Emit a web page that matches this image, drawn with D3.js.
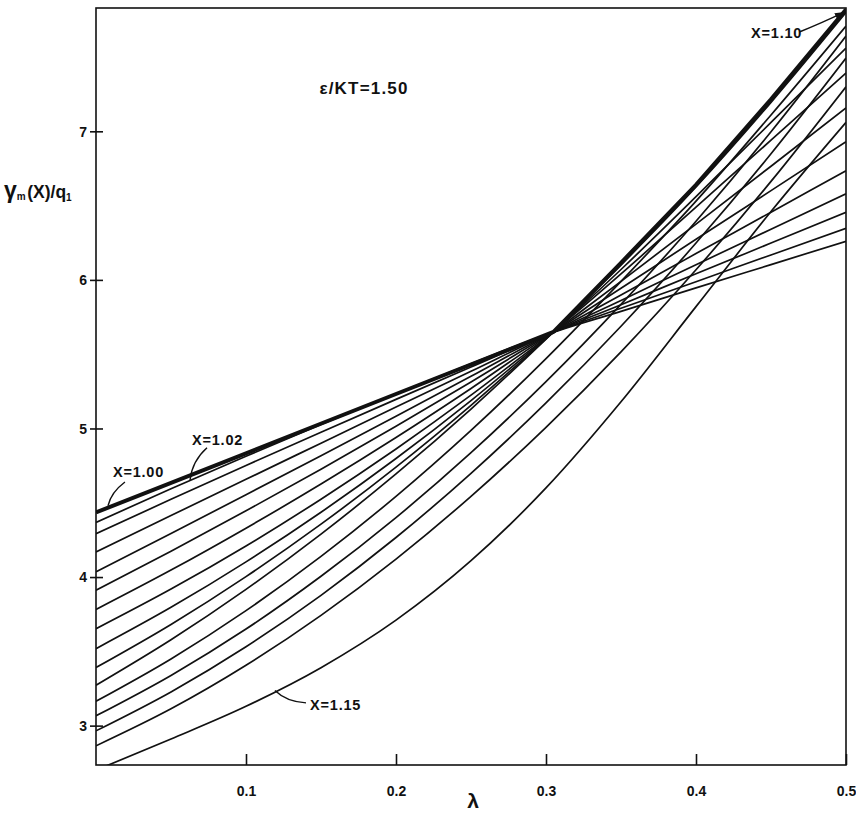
<!DOCTYPE html>
<html><head><meta charset="utf-8">
<script src="https://cdn.jsdelivr.net/npm/d3@7"></script>
<style>
body{margin:0;background:#fff}
text{font-family:"Liberation Sans",Arial,sans-serif;font-weight:bold;fill:#111}
</style>
</head><body>
<svg id="chart" width="856" height="813"></svg>
<script>
// lambda grid for the smooth curves
const lambdas = [0, 0.05, 0.10, 0.15, 0.20, 0.25, 0.30, 0.35, 0.40, 0.45, 0.50];
// lambda grid for the kinked X=1.00 curve
const lambdasKinked = [0, 0.10, 0.20, 0.305, 0.35, 0.40, 0.45, 0.50];
// curve parameters X
const xParams = ["1.00","1.01","1.02","1.03","1.04","1.05","1.06","1.07","1.08","1.09","1.10","1.11","1.12","1.13","1.14","1.15"];
// gamma_m(x)/q1 values
const c100 = [4.435,4.833,5.232,5.650,6.115,6.640,7.215,7.82];
const c101 = [4.368,4.594,4.813,5.027,5.234,5.436,5.631,5.788,5.946,6.103,6.26];
const c102 = [4.292,4.523,4.751,4.975,5.196,5.414,5.629,5.809,5.988,6.168,6.347];
const c103 = [4.169,4.414,4.658,4.901,5.144,5.385,5.626,5.833,6.041,6.248,6.455];
const c104 = [4.035,4.293,4.554,4.817,5.083,5.351,5.623,5.862,6.102,6.341,6.58];
const c105 = [3.911,4.174,4.446,4.726,5.015,5.313,5.619,5.898,6.177,6.456,6.735];
const c106 = [3.782,4.047,4.329,4.626,4.939,5.269,5.615,5.944,6.273,6.601,6.93];
const c107 = [3.652,3.919,4.209,4.524,4.862,5.224,5.610,5.990,6.375,6.765,7.158];
const c108 = [3.518,3.796,4.102,4.436,4.798,5.188,5.607,6.040,6.490,6.940,7.393];
const c109 = [3.391,3.681,4.003,4.356,4.740,5.156,5.603,6.070,6.560,7.060,7.56];
const c110 = [3.272,3.578,3.917,4.289,4.694,5.131,5.602,6.100,6.625,7.195,7.80];
const c111 = [3.164,3.449,3.774,4.139,4.543,4.987,5.470,5.990,6.530,7.110,7.708];
const c112 = [3.066,3.338,3.650,4.005,4.400,4.837,5.315,5.835,6.395,6.997,7.641];
const c113 = [2.965,3.227,3.531,3.877,4.266,4.698,5.172,5.688,6.248,6.849,7.493];
const c114 = [2.864,3.113,3.406,3.742,4.121,4.543,5.008,5.516,6.068,6.663,7.30];
const c115 = [2.700,2.910,3.130,3.390,3.710,4.110,4.600,5.180,5.820,6.460,7.06];
const curveValues = [c100,c101,c102,c103,c104,c105,c106,c107,c108,c109,c110,c111,c112,c113,c114,c115];

// ticks
const xTickValues = [0.1, 0.2, 0.3, 0.4, 0.5];
const xTickLabels = ["0.1","0.2","0.3","0.4","0.5"];
const yTickValues = [3, 4, 5, 6, 7];
const yTickLabels = ["3","4","5","6","7"];

const series = xParams.map((p,i)=>{
  const grid = i===0 ? lambdasKinked : lambdas;
  return {name:p, kinked:i===0, values: grid.map((l,j)=>({l, v: curveValues[i][j]}))};
});

const svg = d3.select("#chart");
const L = 96, R = 846, T = 8, B = 765;
const x = d3.scaleLinear().domain([0, 0.5]).range([L, R]);
const y = d3.scaleLinear().domain([2.735, 7.83]).range([B, T]);

const defs = svg.append("defs");
defs.append("clipPath").attr("id","clip")
  .append("rect").attr("x",L).attr("y",T).attr("width",R-L).attr("height",B-T);
defs.append("marker").attr("id","arrow").attr("viewBox","0 0 10 10").attr("refX",9).attr("refY",5)
  .attr("markerWidth",7).attr("markerHeight",7).attr("orient","auto-start-reverse")
  .append("path").attr("d","M0,1.5 L10,5 L0,8.5 z").attr("fill","#111");

// frame
svg.append("rect").attr("x",L).attr("y",T).attr("width",R-L).attr("height",B-T)
  .attr("fill","none").attr("stroke","#111").attr("stroke-width",1.6);

// axes
const xAxis = d3.axisBottom(x).tickValues(xTickValues).tickFormat((d,i)=>xTickLabels[i]).tickSizeInner(-11).tickSizeOuter(0).tickPadding(21);
const gx = svg.append("g").attr("transform",`translate(0,${B})`).call(xAxis);
gx.select(".domain").remove();
gx.selectAll("line").attr("stroke","#111").attr("stroke-width",1.6);
gx.selectAll("text").attr("font-size",14).attr("fill","#111").attr("font-family","Liberation Sans, Arial, sans-serif").attr("font-weight","bold");

const yAxis = d3.axisLeft(y).tickValues(yTickValues).tickFormat((d,i)=>yTickLabels[i]).tickSizeInner(6).tickSizeOuter(0).tickPadding(5);
const gy = svg.append("g").attr("transform",`translate(${L},0)`).call(yAxis);
gy.select(".domain").remove();
gy.selectAll("line").attr("stroke","#111").attr("stroke-width",1.6).attr("x2",7).attr("x1",-6);
gy.selectAll("text").attr("font-size",14).attr("fill","#111").attr("font-family","Liberation Sans, Arial, sans-serif").attr("font-weight","bold").attr("x",-9).attr("dy","0.35em");

// curves
const smooth = d3.line().x(d=>x(d.l)).y(d=>y(d.v)).curve(d3.curveMonotoneX);
const straight = d3.line().x(d=>x(d.l)).y(d=>y(d.v)).curve(d3.curveLinear);
svg.append("g").attr("clip-path","url(#clip)")
  .selectAll("path").data(series.slice().reverse()).join("path")
  .attr("d", d=> d.kinked ? straight(d.values) : smooth(d.values))
  .attr("fill","none").attr("stroke","#111")
  .attr("stroke-width",d=> d.kinked ? 4 : 1.7)
  .attr("stroke-linejoin","round");

// annotations (positions in data coordinates)
const annotations = [
  {text:"X=1.00", tl:0.0113, tv:4.674, from:[0.0193,4.64], to:[0.008,4.48], ctrl:[0.010,4.57], arrow:false},
  {text:"X=1.02", tl:0.064, tv:4.89, from:[0.074,4.87], to:[0.0627,4.652], ctrl:[0.064,4.78], arrow:false},
  {text:"X=1.15", tl:0.1427, tv:3.107, from:[0.1400,3.153], to:[0.1193,3.236], ctrl:[0.127,3.16], arrow:false},
  {text:"X=1.10", tl:0.4367, tv:7.63, from:[0.4693,7.67], to:[0.4985,7.80], ctrl:[0.483,7.725], arrow:true}
];
const ag = svg.append("g");
annotations.forEach(a=>{
  ag.append("text").attr("x",x(a.tl)).attr("y",y(a.tv)).attr("font-size",14.5).attr("letter-spacing",0.8).text(a.text);
  const p = ag.append("path")
    .attr("d",`M${x(a.from[0])},${y(a.from[1])} Q${x(a.ctrl[0])},${y(a.ctrl[1])} ${x(a.to[0])},${y(a.to[1])}`)
    .attr("fill","none").attr("stroke","#111").attr("stroke-width",1.4);
  if (a.arrow) p.attr("marker-end","url(#arrow)");
});

// epsilon label
svg.append("text").attr("x",x(0.1787)).attr("y",y(7.25)).attr("text-anchor","middle")
  .attr("font-size",17).attr("letter-spacing",1.2).text("ε/KT=1.50");

// axis titles
svg.append("text").attr("x",(L+R)/2+2).attr("y",808).attr("text-anchor","middle").attr("font-size",21).text("λ");
const yt = svg.append("text").attr("x",4).attr("y",198).attr("font-size",17.5);
yt.append("tspan").attr("font-size",23).text("γ");
yt.append("tspan").attr("font-size",10).attr("dy",2).text("m");
yt.append("tspan").attr("dy",-2).attr("dx",1.5).text("(X)/q");
yt.append("tspan").attr("font-size",10).attr("dy",3).text("1");
</script>
</body></html>
